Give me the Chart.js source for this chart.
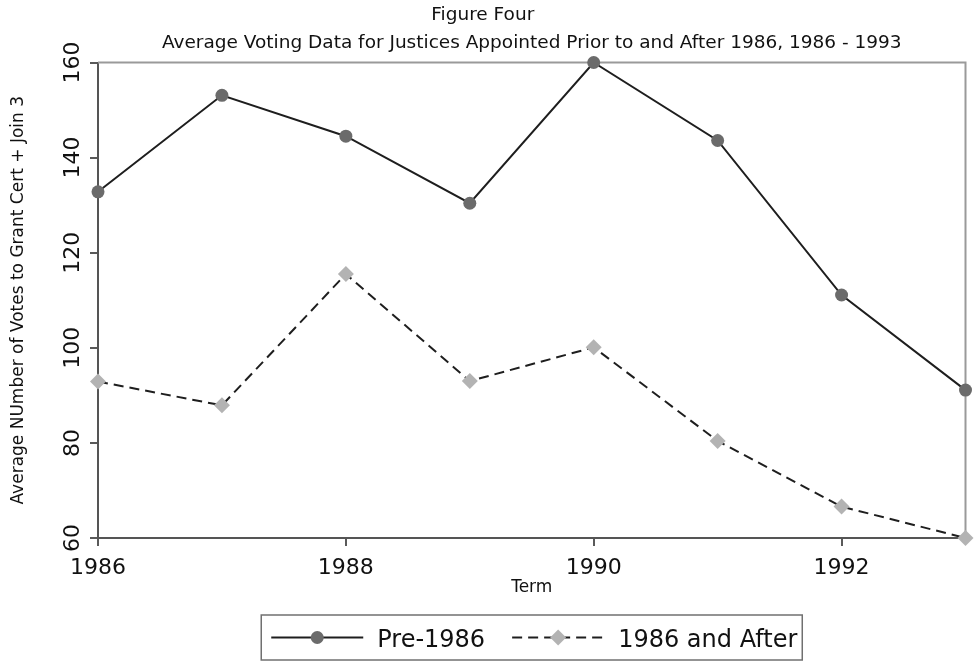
<!DOCTYPE html>
<html><head><meta charset="utf-8">
<script src="https://cdn.jsdelivr.net/npm/chart.js@4.4.1/dist/chart.umd.min.js"></script>
<style>html,body{margin:0;padding:0;background:#fff;}canvas{display:block;}</style>
</head><body>
<canvas id="c" width="979" height="664"></canvas>
<script>
// ---- data ----
const terms = [1986, 1987, 1988, 1989, 1990, 1991, 1992, 1993];
const pre1986 = [132.8, 153.1, 144.5, 130.4, 160, 143.6, 111.1, 91.1];
const post1986 = [92.9, 87.9, 115.5, 93.0, 100.1, 80.4, 66.6, 60.0];
const xTickValues = [1986, 1988, 1990, 1992];
const yTickValues = [60, 80, 100, 120, 140, 160];
const seriesNames = ['Pre-1986', '1986 and After'];
const titleText = 'Figure Four';
const subtitleText = 'Average Voting Data for Justices Appointed Prior to and After 1986, 1986 - 1993';
const xTitleText = 'Term';
const yTitleText = 'Average NUmber of Votes to Grant Cert + Join 3';

const FONT = "'DejaVu Sans', 'Lato', sans-serif";
const TEXT = '#111';

const framePlugin = {
  id: 'frame',
  beforeDatasetsDraw(chart) {
    const {ctx, chartArea: a} = chart;
    ctx.save();
    ctx.strokeStyle = '#9a9a9a';
    ctx.lineWidth = 2;
    ctx.beginPath();
    ctx.moveTo(a.left, a.top);
    ctx.lineTo(a.right, a.top);
    ctx.lineTo(a.right, a.bottom);
    ctx.stroke();
    ctx.restore();
  }
};

const yLabelPlugin = {
  id: 'yLabels',
  afterDraw(chart) {
    const ys = chart.scales.y, ctx = chart.ctx;
    ctx.save();
    ctx.font = '22px ' + FONT;
    ctx.fillStyle = TEXT;
    ctx.textAlign = 'center';
    ctx.textBaseline = 'alphabetic';
    ys.ticks.forEach(t => {
      const py = ys.getPixelForValue(t.value);
      ctx.save();
      ctx.translate(ys.right - 19, py);
      ctx.rotate(-Math.PI / 2);
      ctx.fillText(String(t.value), 0, 0);
      ctx.restore();
    });
    ctx.restore();
  }
};

const legendPlugin = {
  id: 'boxLegend',
  afterDraw(chart) {
    const ctx = chart.ctx, a = chart.chartArea;
    const ds = chart.data.datasets;
    ctx.save();
    ctx.font = '24px ' + FONT;
    const w = ds.map(d => ctx.measureText(d.label).width);
    const sample = 92, gapT = 14, gapItem = 27, padL = 10, padR = 5;
    const total = padL + sample + gapT + w[0] + gapItem + sample + gapT + w[1] + padR;
    const cx = (a.left + a.right) / 2;
    const left = cx - total / 2;
    const top = chart.height - 49, bottom = chart.height - 4;
    const cy = (top + bottom) / 2;
    ctx.strokeStyle = '#707070';
    ctx.lineWidth = 1.5;
    ctx.strokeRect(left, top, total, bottom - top);
    let x = left + padL;
    ds.forEach((d, i) => {
      ctx.save();
      ctx.strokeStyle = d.borderColor;
      ctx.lineWidth = d.borderWidth;
      ctx.setLineDash(d.borderDash || []);
      ctx.beginPath();
      ctx.moveTo(x, cy);
      ctx.lineTo(x + sample, cy);
      ctx.stroke();
      ctx.setLineDash([]);
      ctx.fillStyle = d.pointBackgroundColor;
      const mx = x + sample / 2, r = d.pointRadius;
      ctx.beginPath();
      if (d.pointStyle === 'rectRot') {
        ctx.moveTo(mx - r, cy); ctx.lineTo(mx, cy - r); ctx.lineTo(mx + r, cy); ctx.lineTo(mx, cy + r);
        ctx.closePath();
      } else {
        ctx.arc(mx, cy, r, 0, Math.PI * 2);
      }
      ctx.fill();
      ctx.restore();
      x += sample + gapT;
      ctx.fillStyle = TEXT;
      ctx.textAlign = 'left';
      ctx.textBaseline = 'alphabetic';
      ctx.fillText(d.label, x, cy + 9);
      x += w[i] + gapItem;
    });
    ctx.restore();
  }
};

const toPoints = vals => terms.map((t, i) => ({x: t, y: vals[i]}));

new Chart(document.getElementById('c'), {
  type: 'line',
  data: {
    datasets: [
      {
        label: seriesNames[0],
        data: toPoints(pre1986),
        borderColor: '#1e1e1e',
        borderWidth: 2,
        pointStyle: 'circle',
        pointRadius: 6.5,
        pointBackgroundColor: '#6b6b6b',
        pointBorderColor: '#6b6b6b',
        pointBorderWidth: 0,
        tension: 0,
        clip: false
      },
      {
        label: seriesNames[1],
        data: toPoints(post1986),
        borderColor: '#1e1e1e',
        borderWidth: 2,
        borderDash: [10, 6],
        pointStyle: 'rectRot',
        pointRadius: 8,
        pointBackgroundColor: '#b3b3b3',
        pointBorderColor: '#b3b3b3',
        pointBorderWidth: 0,
        tension: 0,
        clip: false
      }
    ]
  },
  options: {
    responsive: false,
    devicePixelRatio: 1,
    animation: false,
    layout: {padding: {left: 0, right: 13.5, top: 0, bottom: 56}},
    plugins: {
      legend: {display: false},
      tooltip: {enabled: false},
      title: {
        display: true, text: titleText, color: TEXT, fullSize: true,
        font: {family: FONT, size: 18.5, weight: 'normal'},
        padding: {top: 4, bottom: 0}
      },
      subtitle: {
        display: true, text: subtitleText, color: TEXT, fullSize: false,
        font: {family: FONT, size: 18.5, weight: 'normal'},
        padding: {top: 5.7, bottom: 8.4}
      }
    },
    scales: {
      x: {
        type: 'linear',
        min: terms[0],
        max: terms[terms.length - 1],
        offset: false,
        afterBuildTicks: s => { s.ticks = xTickValues.map(v => ({value: v})); },
        afterFit: s => { s.height = 70; },
        grid: {drawOnChartArea: false, drawTicks: true, tickLength: 8, color: '#5a5a5a', lineWidth: 2},
        border: {display: true, color: '#555', width: 2},
        ticks: {
          autoSkip: false, maxRotation: 0, minRotation: 0, padding: 9,
          color: TEXT, font: {family: FONT, size: 22},
          callback: v => String(v)
        },
        title: {
          display: true, text: xTitleText, color: TEXT,
          font: {family: FONT, size: 17}, padding: {top: 0, bottom: 10}
        }
      },
      y: {
        type: 'linear',
        min: yTickValues[0],
        max: yTickValues[yTickValues.length - 1],
        afterBuildTicks: s => { s.ticks = yTickValues.map(v => ({value: v})); },
        afterFit: s => { s.width = 98; },
        grid: {drawOnChartArea: false, drawTicks: true, tickLength: 8, color: '#5a5a5a', lineWidth: 2},
        border: {display: true, color: '#555', width: 2},
        ticks: {display: false},
        title: {
          display: true, text: yTitleText, color: TEXT,
          font: {family: FONT, size: 17}, padding: {top: 8, bottom: 0}
        }
      }
    }
  },
  plugins: [framePlugin, yLabelPlugin, legendPlugin]
});
</script>
</body></html>
